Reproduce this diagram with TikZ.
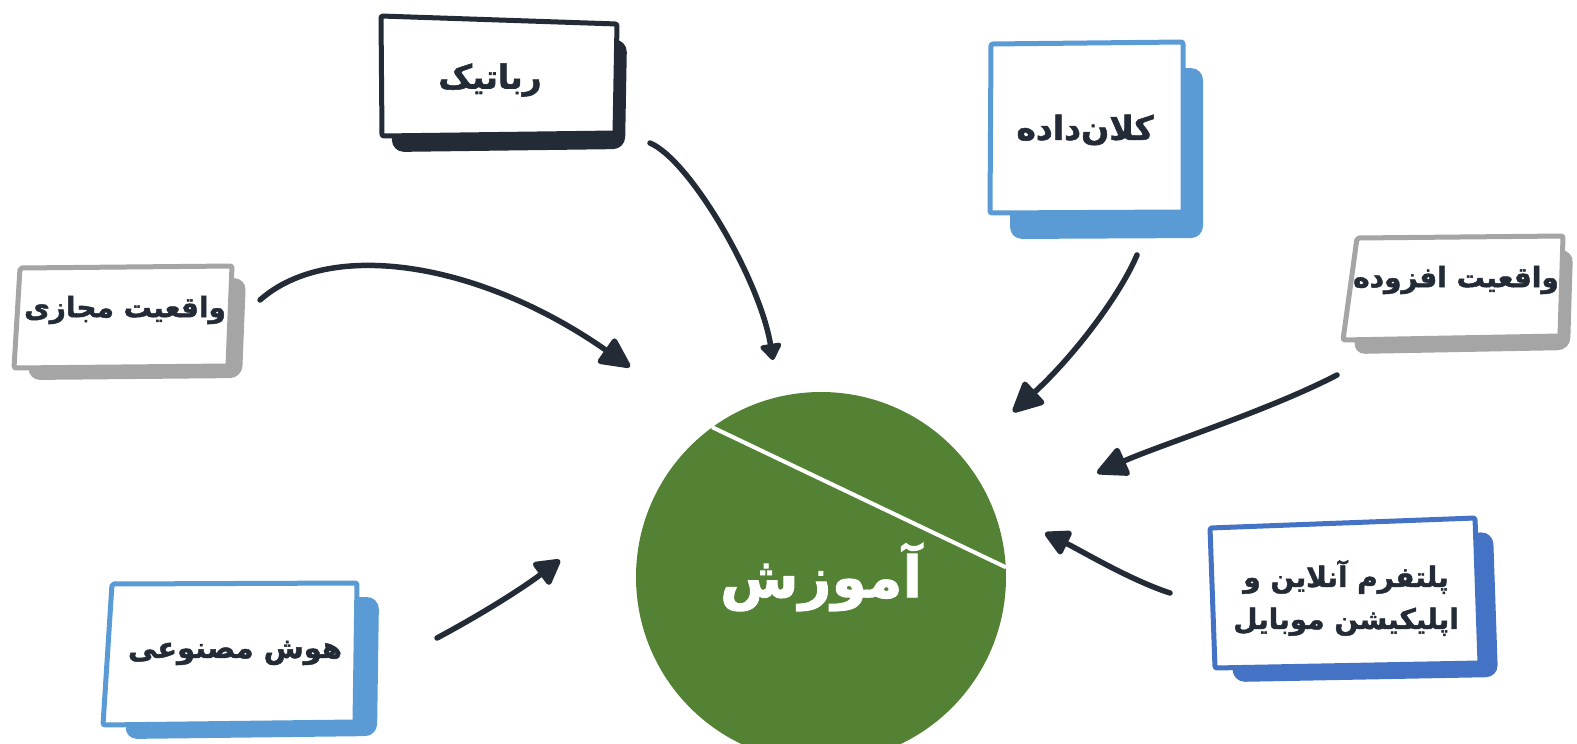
\documentclass[tikz,border=0pt]{standalone}
\usepackage{fontspec}
\usepackage{xcolor}
\usepackage{tikz}
\usetikzlibrary{arrows.meta,positioning,calc}
\TeXXeTstate=1
\newfontfamily\farsifont[Script=Arabic, BoldFeatures={FakeBold=1.6}]{DejaVu Sans}
\definecolor{ink}{RGB}{35,43,55}
\definecolor{skyblue}{RGB}{91,155,213}
\definecolor{deepblue}{RGB}{68,114,196}
\definecolor{ashgray}{RGB}{165,165,165}
\definecolor{leaf}{RGB}{84,130,53}

\begin{document}
\begin{tikzpicture}[x=1pt, y=-1pt]
    \tikzstyle{backing} = [rounded corners=12pt]
    \tikzstyle{card} = [fill=white, line width=5pt, line join=round, rounded corners=2pt]
    \tikzstyle{topic} = [font=\farsifont\bfseries\fontsize{28}{42}\selectfont, text=ink, align=center, inner sep=0pt]
    \tikzstyle{bigtopic} = [topic, font=\farsifont\bfseries\fontsize{33}{42}\selectfont]
    \tikzstyle{feed} = [draw=ink, line width=5.5pt, line cap=round, -{Triangle[length=34pt,width=32pt,round]}]

    \useasboundingbox (0,0) rectangle (1577,744);
    \clip (0,0) rectangle (1577,744);

    % centre
    \node [circle, fill=leaf, minimum size=370pt, inner sep=0pt, text=white, font=\farsifont\bfseries\fontsize{57}{60}\selectfont] (edu) at (821,577) {\beginR آموزش\endR};
    \draw [white, line width=4pt] (edu.126) -- (edu.3);

    % boxes
    \fill [ink, backing, shift={(10,16)}] (381,16) -- (617,24) -- (615,133) -- (382,136) -- cycle;
    \draw [card, draw=ink] (381,16) -- (617,24) -- (615,133) -- (382,136) -- cycle;
    \fill [skyblue, backing, shift={(20,26)}] (991,44) -- (1183,42) -- (1183,212) -- (990,213) -- cycle;
    \draw [card, draw=skyblue] (991,44) -- (1183,42) -- (1183,212) -- (990,213) -- cycle;
    \fill [ashgray, backing, shift={(14,12)}] (20,268) -- (232,266) -- (228,366) -- (14,368) -- cycle;
    \draw [card, draw=ashgray] (20,268) -- (232,266) -- (228,366) -- (14,368) -- cycle;
    \fill [ashgray, backing, shift={(10,14)}] (1357,238) -- (1563,236) -- (1560,336) -- (1343,340) -- cycle;
    \draw [card, draw=ashgray] (1357,238) -- (1563,236) -- (1560,336) -- (1343,340) -- cycle;
    \fill [deepblue, backing, shift={(18,14)}] (1210,528) -- (1475,518) -- (1480,663) -- (1215,668) -- cycle;
    \draw [card, draw=deepblue] (1210,528) -- (1475,518) -- (1480,663) -- (1215,668) -- cycle;
    \fill [skyblue, backing, shift={(22,14)}] (112,584) -- (357,583) -- (355,722) -- (103,725) -- cycle;
    \draw [card, draw=skyblue] (112,584) -- (357,583) -- (355,722) -- (103,725) -- cycle;

    % labels
    \node [bigtopic] (rob) at (490,80) {\beginR رباتیک\endR};
    \node [bigtopic] (bigd) at (1085,130) {\beginR کلان^^^^200cداده\endR};
    \node [topic] (vr) at (125,310) {\beginR واقعیت مجازی\endR};
    \node [topic] (ar) at (1456,280) {\beginR واقعیت افزوده\endR};
    \node [topic] (plat) at (1346,598) {\beginR پلتفرم آنلاین و\endR\\\beginR اپلیکیشن موبایل\endR};
    \node [topic, font=\farsifont\bfseries\fontsize{29}{42}\selectfont] (ai) at (235,653) {\beginR هوش مصنوعی\endR};

    % arrow ends
    \coordinate (vr-out) at (260,300);
    \coordinate (vr-in) at (630,367);
    \coordinate (rob-out) at (650,143);
    \coordinate (rob-in) at (773,360);
    \coordinate (bigd-out) at (1137,255);
    \coordinate (bigd-in) at (1013,412);
    \coordinate (ar-out) at (1337,375);
    \coordinate (ar-in) at (1097,473);
    \coordinate (plat-out) at (1170,593);
    \coordinate (plat-in) at (1045,533);
    \coordinate (ai-out) at (437,638);
    \coordinate (ai-in) at (560,560);

    \draw [feed] (vr-out) .. controls (330,238) and (480,262) .. (vr-in);
    \draw [feed, -{Triangle[length=18pt,width=24pt,round]}] (rob-out) .. controls (690,160) and (760,280) .. (rob-in);
    \draw [feed] (bigd-out) .. controls (1120,295) and (1075,355) .. (bigd-in);
    \draw [feed] (ar-out) .. controls (1270,410) and (1160,445) .. (ar-in);
    \draw [feed, -{Triangle[length=28pt,width=28pt,round]}] (plat-out) .. controls (1130,580) and (1080,550) .. (plat-in);
    \draw [feed, -{Triangle[length=28pt,width=30pt,round]}] (ai-out) .. controls (480,615) and (520,590) .. (ai-in);
\end{tikzpicture}
\end{document}
